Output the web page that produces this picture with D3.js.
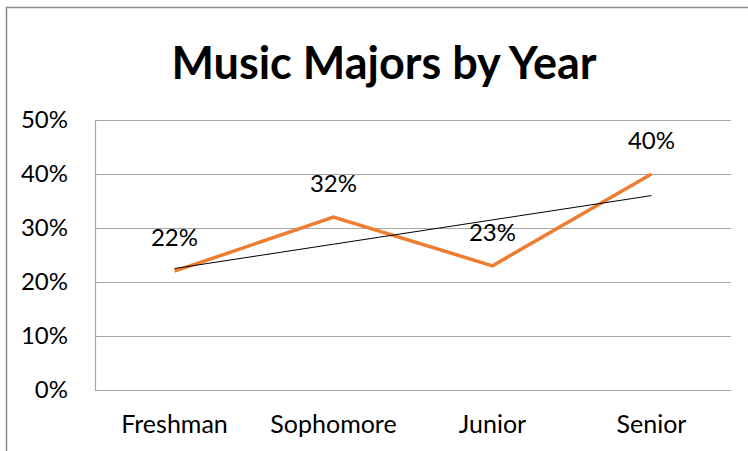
<!DOCTYPE html>
<html>
<head>
<meta charset="utf-8">
<script src="https://cdn.jsdelivr.net/npm/d3@7"></script>
<style>
  body { margin: 0; background: #fff; }
  svg { display: block; font-family: Lato, "Open Sans", sans-serif; }
</style>
</head>
<body>
<script>
const categories = ['Freshman', 'Sophomore', 'Junior', 'Senior'];
const values = [0.22, 0.32, 0.23, 0.40];
const yTicks = [0, 0.1, 0.2, 0.3, 0.4, 0.5];
const title = 'Music Majors by Year';

const width = 748;
const height = 451;
const margin = { top: 120, right: 17, bottom: 61, left: 95 };
const plotWidth = width - margin.left - margin.right;
const plotHeight = height - margin.top - margin.bottom;

const svg = d3.select('body').append('svg')
  .attr('width', width)
  .attr('height', height);

// outer frame (only top and left visible)
svg.append('path')
  .attr('d', `M6.5,${height} V7.5 H${width}`)
  .attr('fill', 'none')
  .attr('stroke', '#8c8c8c')
  .attr('stroke-width', 1.5);

svg.append('text')
  .attr('x', 384)
  .attr('y', 79)
  .attr('text-anchor', 'middle')
  .attr('font-size', 45)
  .attr('font-weight', 'bold')
  .attr('fill', '#000')
  .text(title);

const x = d3.scaleBand()
  .domain(categories)
  .range([0, plotWidth]);

const y = d3.scaleLinear()
  .domain([0, 0.5])
  .range([plotHeight, 0]);

const g = svg.append('g')
  .attr('transform', `translate(${margin.left},${margin.top})`);

// gridlines
g.append('g')
  .selectAll('line')
  .data(yTicks)
  .enter().append('line')
    .attr('x1', 0)
    .attr('x2', plotWidth)
    .attr('y1', d => Math.round(y(d)) + 0.5)
    .attr('y2', d => Math.round(y(d)) + 0.5)
    .attr('stroke', '#a6a6a6')
    .attr('stroke-width', 1.2);

g.append('line')
  .attr('x1', 0.5).attr('x2', 0.5)
  .attr('y1', 0).attr('y2', plotHeight)
  .attr('stroke', '#a6a6a6')
  .attr('stroke-width', 1.2);

// y tick labels
g.append('g')
  .selectAll('text')
  .data(yTicks)
  .enter().append('text')
    .attr('x', -27)
    .attr('y', d => y(d))
    .attr('dy', '0.35em')
    .attr('text-anchor', 'end')
    .attr('font-size', 24)
    .text(d => d3.format('.0%')(d));

// x labels
g.append('g')
  .selectAll('text')
  .data(categories)
  .enter().append('text')
    .attr('x', d => x(d) + x.bandwidth() / 2)
    .attr('y', plotHeight + 43)
    .attr('text-anchor', 'middle')
    .attr('font-size', 25)
    .text(d => d);

const cx = (d, i) => x(categories[i]) + x.bandwidth() / 2;

// series line
const line = d3.line()
  .x(cx)
  .y(d => y(d));

g.append('path')
  .attr('d', line(values))
  .attr('fill', 'none')
  .attr('stroke', '#ed7d31')
  .attr('stroke-width', 3.5)
  .attr('stroke-linejoin', 'miter');

// linear trendline (least squares)
const n = values.length;
const xs = d3.range(1, n + 1);
const mx = d3.mean(xs);
const my = d3.mean(values);
const slope = d3.sum(xs, (v, i) => (v - mx) * (values[i] - my)) / d3.sum(xs, v => (v - mx) * (v - mx));
const trend = xs.map(v => my + slope * (v - mx));

g.append('path')
  .attr('d', line(trend))
  .attr('fill', 'none')
  .attr('stroke', '#000')
  .attr('stroke-width', 1);

// data labels
g.append('g')
  .selectAll('text')
  .data(values)
  .enter().append('text')
    .attr('x', cx)
    .attr('y', d => y(d) - 25)
    .attr('text-anchor', 'middle')
    .attr('font-size', 24)
    .text(d => d3.format('.0%')(d));
</script>
</body>
</html>
